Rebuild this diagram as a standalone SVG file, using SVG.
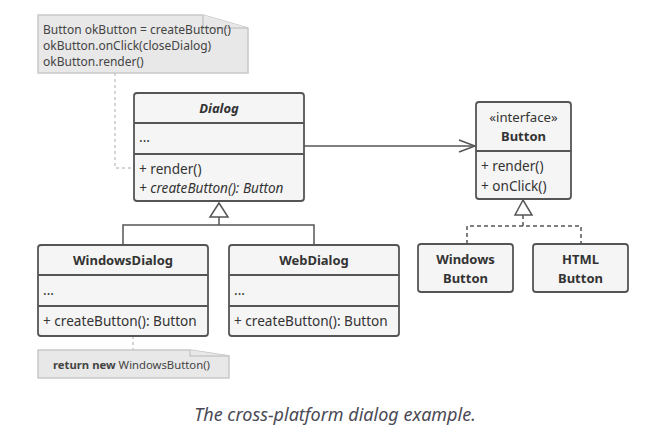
<svg xmlns="http://www.w3.org/2000/svg" width="665" height="445" viewBox="0 0 665 445">
<style>
text{font-family:"Noto Sans","Open Sans","DejaVu Sans",sans-serif;fill:#333;font-size:13.6px}
.box{fill:#f5f5f5;stroke:#555;stroke-width:1.8}
.sep{stroke:#555;stroke-width:1.8;fill:none}
.t{font-weight:bold;text-anchor:middle;font-size:13px}
.note{fill:#e8e8e8;stroke:#c8c8c8;stroke-width:1.5}
.nt{font-size:12px;fill:#444}
.line{stroke:#555;stroke-width:1.5;fill:none}
.dash{stroke:#555;stroke-width:1.5;fill:none;stroke-dasharray:4,3}
.ndash{stroke:#aaa;stroke-width:1;fill:none;stroke-dasharray:3,3}
.tri{fill:#fff;stroke:#555;stroke-width:1.5}
.cap{font-style:italic;font-size:18px;fill:#4a4a55;text-anchor:middle}
</style>
<rect width="665" height="445" fill="#fff"/>
<g id="connectors">
<path class="ndash" d="M115,73 V168 H134"/>
<path class="ndash" d="M133,336 V350"/>
<path class="line" d="M304,146 H475"/>
<path class="line" d="M459,140 L475,146 L459,152"/>
<path class="line" d="M219,217 V225 M123,245 V225 H314 V245"/>
<polygon class="tri" points="219,203 210,217 228,217"/>
<path class="dash" d="M523,215 V226 M467,244 V226 H581 V244"/>
<polygon class="tri" points="523,200 515,215 532,215"/>
</g>
<g id="note1">
<path class="note" d="M38,15 H203 L248,28 V73 H38 Z"/>
<path class="note" d="M203,15 V28 H248" fill="none"/>
<text class="nt" x="43" y="34">Button okButton = createButton()</text>
<text class="nt" x="43" y="50">okButton.onClick(closeDialog)</text>
<text class="nt" x="43" y="66">okButton.render()</text>
</g>
<g id="dialog">
<rect class="box" x="134" y="93" width="170" height="108" rx="3"/>
<path class="sep" d="M134,123 H304 M134,154 H304"/>
<text class="t" x="219" y="113" font-style="italic">Dialog</text>
<text x="139" y="142">...</text>
<text x="139" y="174">+ render()</text>
<text x="139" y="193" font-style="italic">+ createButton(): Button</text>
</g>
<g id="windowsDialog">
<rect class="box" x="38" y="245" width="170" height="91" rx="3"/>
<path class="sep" d="M38,275 H208 M38,306 H208"/>
<text class="t" x="123" y="265">WindowsDialog</text>
<text x="43" y="295">...</text>
<text x="43" y="326">+ createButton(): Button</text>
</g>
<g id="webDialog">
<rect class="box" x="229" y="245" width="170" height="91" rx="3"/>
<path class="sep" d="M229,275 H399 M229,306 H399"/>
<text class="t" x="314" y="265">WebDialog</text>
<text x="234" y="295">...</text>
<text x="234" y="326">+ createButton(): Button</text>
</g>
<g id="note2">
<path class="note" d="M38,350 H190 L229,356 V378 H38 Z"/>
<path class="note" d="M190,350 V356 H229" fill="none"/>
<text class="nt" x="53" y="369" style="font-size:11.3px"><tspan font-weight="bold">return new</tspan> WindowsButton()</text>
</g>
<g id="button">
<rect class="box" x="476" y="102" width="95" height="97" rx="3"/>
<path class="sep" d="M476,151 H571"/>
<text x="523.5" y="122" text-anchor="middle" style="font-size:13.2px">«interface»</text>
<text class="t" x="523.5" y="141">Button</text>
<text x="481" y="171">+ render()</text>
<text x="481" y="191">+ onClick()</text>
</g>
<g id="windowsButton">
<rect class="box" x="418" y="244" width="95" height="48" rx="3"/>
<text class="t" x="465.5" y="264">Windows</text>
<text class="t" x="465.5" y="283">Button</text>
</g>
<g id="htmlButton">
<rect class="box" x="533" y="244" width="95" height="48" rx="3"/>
<text class="t" x="580.5" y="264">HTML</text>
<text class="t" x="580.5" y="283">Button</text>
</g>
<text class="cap" x="335" y="421">The cross-platform dialog example.</text>
</svg>
